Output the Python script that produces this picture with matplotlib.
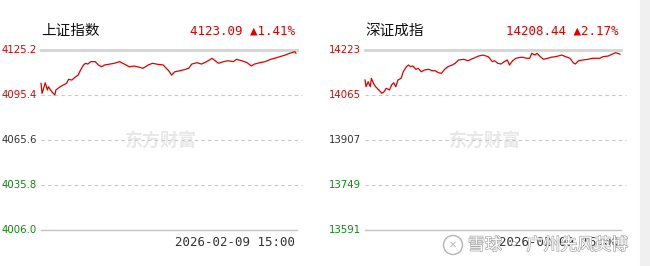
import matplotlib
matplotlib.use("Agg")
import matplotlib.pyplot as plt
import matplotlib.patheffects as pe
from matplotlib.patches import Rectangle, Ellipse

plt.rcParams['font.family'] = ['Noto Sans CJK SC', 'DejaVu Sans']

# minute index of the trading day (0..240) and index level
sh_t = [0, 1, 4, 6, 7, 9, 11, 13, 14, 18, 21, 24, 26, 29, 32, 35, 37, 40, 42, 44,
        47, 51, 54, 57, 60, 65, 69, 74, 77, 80, 83, 88, 93, 96, 101, 105, 110, 115,
        120, 123, 126, 131, 136, 139, 142, 147, 151, 156, 161, 164, 167, 172, 176,
        181, 184, 189, 194, 198, 201, 206, 211, 216, 220, 225, 230, 234, 239, 240]
sh_v = [4103.1, 4096.5, 4103.5, 4098.7, 4100.9, 4098.7, 4096.9, 4095.4, 4098.7,
        4100.9, 4102.0, 4103.1, 4105.8, 4105.3, 4107.1, 4108.6, 4111.6, 4115.3,
        4116.4, 4115.9, 4117.5, 4117.5, 4115.3, 4114.1, 4115.3, 4115.9, 4116.4,
        4117.5, 4116.4, 4115.3, 4114.1, 4114.6, 4113.7, 4113.1, 4115.3, 4116.4,
        4115.7, 4115.3, 4111.6, 4108.6, 4110.8, 4111.5, 4112.4, 4113.1, 4115.9,
        4116.8, 4115.9, 4117.5, 4119.7, 4118.1, 4116.4, 4117.5, 4118.1, 4117.5,
        4119.0, 4118.1, 4116.8, 4114.6, 4115.9, 4116.8, 4117.5, 4119.0, 4119.7,
        4120.8, 4121.9, 4123.0, 4124.1, 4123.1]

sz_t = [0, 1, 3, 5, 6, 8, 10, 13, 16, 18, 20, 23, 25, 27, 29, 31, 34, 36, 39, 41,
        43, 45, 48, 50, 53, 56, 60, 63, 66, 69, 72, 75, 78, 82, 85, 88, 93, 97, 102,
        107, 111, 116, 120, 122, 125, 128, 131, 134, 136, 139, 142, 146, 149, 152,
        155, 157, 160, 162, 165, 168, 172, 175, 179, 182, 185, 189, 193, 196, 198,
        201, 205, 210, 214, 218, 221, 224, 229, 233, 236, 240]
sz_v = [14117.7, 14094.1, 14111.7, 14094.1, 14123.6, 14106.1, 14094.1, 14082.6,
        14071.0, 14076.6, 14088.5, 14082.6, 14100.1, 14108.2, 14094.1, 14117.7,
        14123.6, 14146.8, 14164.4, 14170.3, 14164.4, 14166.8, 14155.2, 14158.7,
        14146.8, 14152.8, 14155.2, 14150.3, 14150.3, 14143.3, 14141.2, 14155.2,
        14164.4, 14170.3, 14176.3, 14187.9, 14190.3, 14185.4, 14193.9, 14201.9,
        14205.4, 14199.5, 14181.9, 14185.4, 14176.3, 14173.8, 14181.9, 14187.9,
        14170.3, 14185.4, 14193.9, 14197.4, 14197.4, 14193.9, 14193.9, 14211.4,
        14205.4, 14211.4, 14199.5, 14190.3, 14193.9, 14197.4, 14199.5, 14201.9,
        14205.4, 14199.5, 14193.9, 14178.4, 14173.8, 14185.4, 14187.9, 14190.3,
        14193.9, 14193.9, 14193.9, 14199.5, 14201.9, 14209.0, 14213.5, 14208.4]

sh_ticks = [4125.2, 4095.4, 4065.6, 4035.8, 4006.0]
sh_labels = ['4125.2', '4095.4', '4065.6', '4035.8', '4006.0']
sz_ticks = [14223, 14065, 13907, 13749, 13591]
sz_labels = ['14223', '14065', '13907', '13749', '13591']
label_colors = ['#e00000', '#e00000', '#333333', '#0a8a0a', '#0a8a0a']

panels = [
    ('上证指数', '4123.09 ▲1.41%', sh_t, sh_v, sh_ticks, sh_labels, 41),
    ('深证成指', '14208.44 ▲2.17%', sz_t, sz_v, sz_ticks, sz_labels, 365),
]
date_text = '2026-02-09 15:00'

W, H = 650, 266
fig = plt.figure(figsize=(6.5, 2.66), dpi=100)
fig.patch.set_facecolor('white')

# grey strip along the right edge
fig.patches.append(Rectangle((640 / W, 0), 10 / W, 1, transform=fig.transFigure,
                             color='#f0f0f0', zorder=0))

mono = ['DejaVu Sans Mono', 'DejaVu Sans']

for title, quote, t, v, ticks, labels, x0 in panels:
    ax = fig.add_axes([x0 / W, 1 - 230 / H, 256 / W, 180 / H])
    ax.set_xlim(0, 241)
    ax.set_ylim(ticks[-1], ticks[0])
    ax.axis('off')

    for i, (tk, lb) in enumerate(zip(ticks, labels)):
        if i == 0:
            ax.axhline(tk, color='#d4d4d4', lw=2, zorder=1, clip_on=False)
        elif i == len(ticks) - 1:
            ax.axhline(tk, color='#c4c4c4', lw=1, zorder=1, clip_on=False)
        else:
            ax.plot([0, 1.02], [tk, tk], transform=ax.get_yaxis_transform(),
                    color='#c8c8c8', lw=0.8, ls=(0, (3, 3)), zorder=1, clip_on=False)
        ax.text(-0.016, tk, lb, transform=ax.get_yaxis_transform(), ha='right',
                va='center', fontsize=7.3, color=label_colors[i], family='DejaVu Sans')

    # watermark
    ax.text(0.47, 0.5, '东方财富', transform=ax.transAxes, ha='center', va='center',
            fontsize=13, fontweight='bold', color='#e8e8e8', zorder=0)

    ax.plot(t, v, color='#e00000', lw=0.9, zorder=3, clip_on=False)

    ax.text(0.0, 1.106, title, transform=ax.transAxes, ha='left', va='center',
            fontsize=10.5, color='#111111')
    ax.text(0.992, 1.106, quote, transform=ax.transAxes, ha='right', va='center',
            fontsize=9, color='#e00000', family=mono)
    ax.text(0.992, -0.067, date_text, transform=ax.transAxes, ha='right', va='center',
            fontsize=9, color='#333333', family=mono)

# xueqiu watermark, bottom right
fig.patches.append(Ellipse((453 / W, 1 - 245 / H), 19 / W, 19 / H,
                           transform=fig.transFigure, fill=False, ec='#b4b4b4', lw=1.0))
fig.text(453 / W, 1 - 245 / H, '✕', ha='center', va='center', fontsize=7,
         color='#b4b4b4', family='DejaVu Sans')
fig.text(468 / W, 1 - 245 / H, '雪球 · 广州先风英博', ha='left', va='center',
         fontsize=12.2, color='white',
         path_effects=[pe.Stroke(linewidth=1.0, foreground='#a8a8a8'), pe.Normal()])

fig.savefig('out.png', dpi=100, facecolor='white')
